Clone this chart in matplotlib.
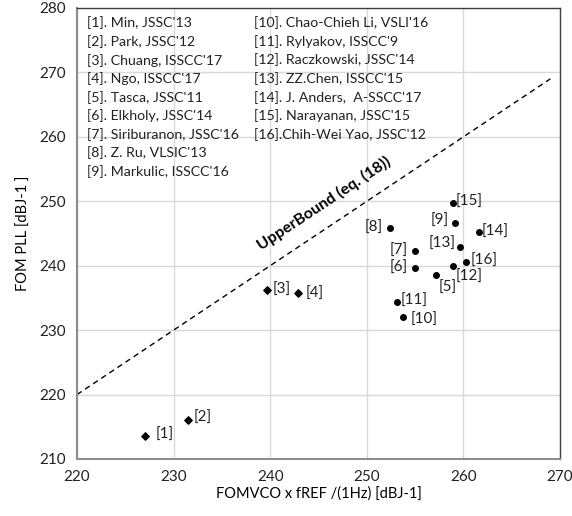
import matplotlib
matplotlib.use("Agg")
from matplotlib import pyplot as plt

plt.rcParams['font.family'] = ['Lato', 'DejaVu Sans']

# reference points [1]..[16]
refs = ['[1]', '[2]', '[3]', '[4]', '[5]', '[6]', '[7]', '[8]',
        '[9]', '[10]', '[11]', '[12]', '[13]', '[14]', '[15]', '[16]']
fom_vco = [227.0, 231.5, 239.7, 242.9, 257.2, 255.0, 255.0, 252.4,
           259.1, 253.8, 253.1, 258.9, 259.6, 261.6, 258.9, 260.3]
fom_pll = [213.6, 216.0, 236.3, 235.8, 238.5, 239.6, 242.3, 245.8,
           246.7, 232.0, 234.4, 240.0, 242.9, 245.2, 249.7, 240.5]
n_diamond = 4

legend_col1 = ["[1]. Min, JSSC'13", "[2]. Park, JSSC'12", "[3]. Chuang, ISSCC'17",
               "[4]. Ngo, ISSCC'17", "[5]. Tasca, JSSC'11", "[6]. Elkholy, JSSC'14",
               "[7]. Siriburanon, JSSC'16", "[8]. Z. Ru, VLSIC'13", "[9]. Markulic, ISSCC'16"]
legend_col2 = ["[10]. Chao-Chieh Li, VSLI'16", "[11]. Rylyakov, ISSCC'9",
               "[12]. Raczkowski, JSSC'14", "[13]. ZZ.Chen, ISSCC'15",
               "[14]. J. Anders,  A-SSCC'17", "[15]. Narayanan, JSSC'15",
               "[16].Chih-Wei Yao, JSSC'12"]

bound_x = [220, 269]
bound_y = [220, 269]

# label offsets in points (dx, dy, ha)
offs = {
    '[1]': (8, 1, 'left'), '[2]': (4, 2, 'left'), '[3]': (4, 0, 'left'),
    '[4]': (5, -1, 'left'), '[5]': (2, -9, 'left'), '[6]': (-5, 0, 'right'),
    '[7]': (-5, 0, 'right'), '[8]': (-5, 0, 'right'), '[9]': (-4, 1, 'right'),
    '[10]': (5, -2, 'left'), '[11]': (3, 1, 'left'), '[12]': (2, -8, 'left'),
    '[13]': (-3, 2, 'right'), '[14]': (2, 0, 'left'), '[15]': (2, 1, 'left'),
    '[16]': (3, 1, 'left'),
}

fig = plt.figure(figsize=(5.72, 5.16), dpi=100)
ax = fig.add_axes([0.1346, 0.1105, 0.8444, 0.874])

ax.plot(bound_x, bound_y, color='black', lw=1, ls=(0, (4, 3)))
ax.text(245.6, 249.6, 'UpperBound (eq. (18))', rotation=33.5, rotation_mode='anchor',
        ha='center', va='center', fontsize=11.5, fontweight='bold')

ax.scatter(fom_vco[:n_diamond], fom_pll[:n_diamond], marker='D', s=14, color='black', zorder=3)
ax.scatter(fom_vco[n_diamond:], fom_pll[n_diamond:], marker='o', s=16, color='black', zorder=3)

for r, x, y in zip(refs, fom_vco, fom_pll):
    dx, dy, ha = offs[r]
    ax.annotate(r, (x, y), xytext=(dx, dy), textcoords='offset points',
                ha=ha, va='center', fontsize=11, color='#222222')

for i, t in enumerate(legend_col1):
    ax.text(0.021, 0.967 - i * 0.0412, t, transform=ax.transAxes,
            fontsize=10.2, va='center', color='#222222')
for i, t in enumerate(legend_col2):
    ax.text(0.366, 0.967 - i * 0.0412, t, transform=ax.transAxes,
            fontsize=10.2, va='center', color='#222222')

ax.set_xlim(220, 270)
ax.set_ylim(210, 280)
ax.set_xticks(range(220, 271, 10))
ax.set_yticks(range(210, 281, 10))
ax.grid(True, color='#d9d9d9', lw=1)
ax.set_axisbelow(True)
ax.tick_params(length=0, labelsize=11, pad=8, colors='#222222')
for s in ['left', 'bottom']:
    ax.spines[s].set_color('#8c8c8c')
    ax.spines[s].set_linewidth(1.5)
for s in ['top', 'right']:
    ax.spines[s].set_color('#404040')
    ax.spines[s].set_linewidth(1)

ax.set_xlabel('FOMVCO x fREF /(1Hz) [dBJ-1]', fontsize=10.5, labelpad=2)
ax.set_ylabel('FOM PLL [dBJ-1 ]', fontsize=10.5, labelpad=6)

fig.savefig('out.png', dpi=100)
